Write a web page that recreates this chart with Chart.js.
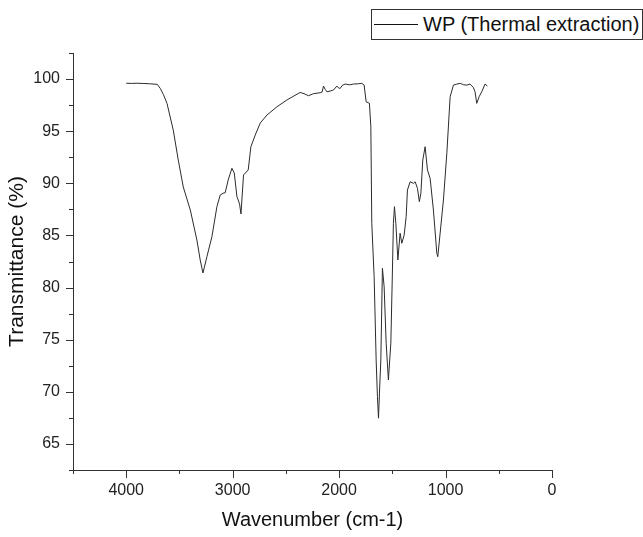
<!DOCTYPE html>
<html>
<head>
<meta charset="utf-8">
<script src="https://cdn.jsdelivr.net/npm/chart.js@4.4.1/dist/chart.umd.min.js"></script>
<style>
  html, body { margin: 0; padding: 0; background: #fff; }
  #wrap { position: relative; width: 643px; height: 537px; }
  #legend {
    position: absolute; left: 371px; top: 9px; width: 270px; height: 29px;
    border: 1px solid #333; background: #fff;
    font-family: "Liberation Sans", Arial, sans-serif; font-size: 20px; color: #111;
    line-height: 29px; white-space: nowrap; box-sizing: content-box;
  }
  #legend .ln { position: absolute; left: 2px; top: 14px; width: 44px; border-top: 1px solid #111; }
  #legend .tx { position: absolute; left: 51px; top: 0; }
</style>
</head>
<body>
<div id="wrap">
  <canvas id="ftir" width="643" height="537"></canvas>
  <div id="legend"><span class="ln"></span><span class="tx">WP (Thermal extraction)</span></div>
</div>
<script>
const seriesName = "WP (Thermal extraction)";

const wavenumber = [
  4000, 3950, 3900, 3850, 3780, 3708, 3680, 3650, 3617, 3558, 3511, 3464, 3398, 3336, 3305, 3279,
  3242, 3195, 3148, 3117, 3090, 3070, 3042, 3007, 2985, 2960, 2948, 2935, 2922, 2898, 2854, 2829,
  2788, 2741, 2678, 2584, 2491, 2366, 2330, 2288, 2240, 2178, 2160, 2147, 2130, 2115, 2085, 2053,
  2021, 2005, 1990, 1970, 1943, 1900, 1865, 1820, 1787, 1765, 1746, 1715, 1702, 1693, 1671, 1652,
  1640, 1630, 1621, 1608, 1593, 1577, 1558, 1537, 1514, 1499, 1490, 1480, 1467, 1448, 1427, 1411,
  1389, 1370, 1358, 1333, 1302, 1286, 1264, 1246, 1232, 1214, 1192, 1170, 1145, 1114, 1082, 1073,
  1051, 1020, 988, 957, 926, 900, 863, 830, 800, 770, 739, 723, 707, 685, 660, 629, 607
];

const transmittance = [
  99.6, 99.58, 99.6, 99.58, 99.55, 99.49, 99.1, 98.5, 97.67, 95.1, 92.23, 89.65, 87.44, 84.56, 82.65, 81.4,
  82.96, 84.88, 87.76, 88.88, 89.05, 89.1, 90.32, 91.44, 90.99, 88.72, 88.4, 88.0, 87.06, 90.8, 91.28, 93.5,
  94.63, 95.78, 96.55, 97.34, 97.99, 98.72, 98.6, 98.4, 98.6, 98.69, 98.75, 99.33, 99.0, 98.78, 98.85, 98.95,
  99.33, 99.15, 99.1, 99.4, 99.52, 99.45, 99.52, 99.55, 99.59, 99.42, 97.82, 97.67, 95.43, 86.17, 81.05, 73.06,
  69.54, 67.47, 69.87, 73.06, 81.85, 80.09, 74.66, 71.14, 74.66, 81.69, 86.16, 87.76, 86.16, 82.65, 85.21, 84.25,
  85.04, 86.8, 89.36, 90.15, 90.0, 90.15, 89.52, 88.24, 89.04, 92.23, 93.51, 91.28, 90.48, 87.44, 83.29, 82.96,
  85.21, 88.4, 92.88, 98.3, 99.42, 99.5, 99.59, 99.45, 99.42, 99.52, 99.2, 98.78, 97.67, 98.3, 98.78, 99.52, 99.33
];

const xMajorTicks = [0, 1000, 2000, 3000, 4000];
const xMinorTicks = [500, 1500, 2500, 3500, 4500];
const yMajorTicks = [65, 70, 75, 80, 85, 90, 95, 100];
const yMinorTicks = [62.5, 67.5, 72.5, 77.5, 82.5, 87.5, 92.5, 97.5, 102.5];

const FONT = "'Liberation Sans', Arial, sans-serif";
const AXIS = "#333";

// outward tick marks, long for labelled ticks, short in between
const tickMarks = {
  id: "tickMarks",
  afterDraw(chart) {
    const { ctx, scales: { x, y }, chartArea: a } = chart;
    ctx.save();
    ctx.strokeStyle = AXIS;
    ctx.lineWidth = 1;
    ctx.beginPath();
    const xt = (v, len) => { const p = Math.round(x.getPixelForValue(v)) + 0.5; ctx.moveTo(p, a.bottom); ctx.lineTo(p, a.bottom + len); };
    const yt = (v, len) => { const p = Math.round(y.getPixelForValue(v)) + 0.5; ctx.moveTo(a.left, p); ctx.lineTo(a.left - len, p); };
    xMajorTicks.forEach(v => xt(v, 8));
    xMinorTicks.forEach(v => xt(v, 4));
    yMajorTicks.forEach(v => yt(v, 7));
    yMinorTicks.forEach(v => yt(v, 4));
    ctx.stroke();
    ctx.restore();
  }
};

new Chart(document.getElementById("ftir"), {
  type: "line",
  data: {
    datasets: [{
      label: seriesName,
      data: wavenumber.map((w, i) => ({ x: w, y: transmittance[i] })),
      borderColor: "#2b2b2b",
      borderWidth: 1,
      pointRadius: 0,
      tension: 0,
      fill: false
    }]
  },
  options: {
    responsive: false,
    animation: false,
    layout: { padding: { top: 53, right: 91, left: 0, bottom: 0 } },
    plugins: { legend: { display: false }, tooltip: { enabled: false } },
    scales: {
      x: {
        type: "linear",
        reverse: true,
        min: 0,
        max: 4500,
        afterBuildTicks: s => { s.ticks = xMajorTicks.map(v => ({ value: v })); },
        afterFit: s => { s.height = 67; },
        grid: { display: false, drawTicks: false },
        border: { display: true, color: AXIS, width: 1 },
        ticks: { padding: 11, color: "#222", font: { family: FONT, size: 16 }, maxRotation: 0, callback: v => String(v) },
        title: { display: true, text: "Wavenumber (cm-1)", color: "#111", font: { family: FONT, size: 20 }, padding: { top: 0, bottom: 5 } }
      },
      y: {
        min: 62.5,
        max: 102.5,
        afterBuildTicks: s => { s.ticks = yMajorTicks.map(v => ({ value: v })); },
        afterFit: s => { s.width = 73; },
        grid: { display: false, drawTicks: false },
        border: { display: true, color: AXIS, width: 1 },
        ticks: { padding: 13, color: "#222", font: { family: FONT, size: 16 }, callback: v => String(v) },
        title: { display: true, text: "Transmittance (%)", color: "#111", font: { family: FONT, size: 21 }, padding: { top: 5, bottom: 0 } }
      }
    }
  },
  plugins: [tickMarks]
});
</script>
</body>
</html>
